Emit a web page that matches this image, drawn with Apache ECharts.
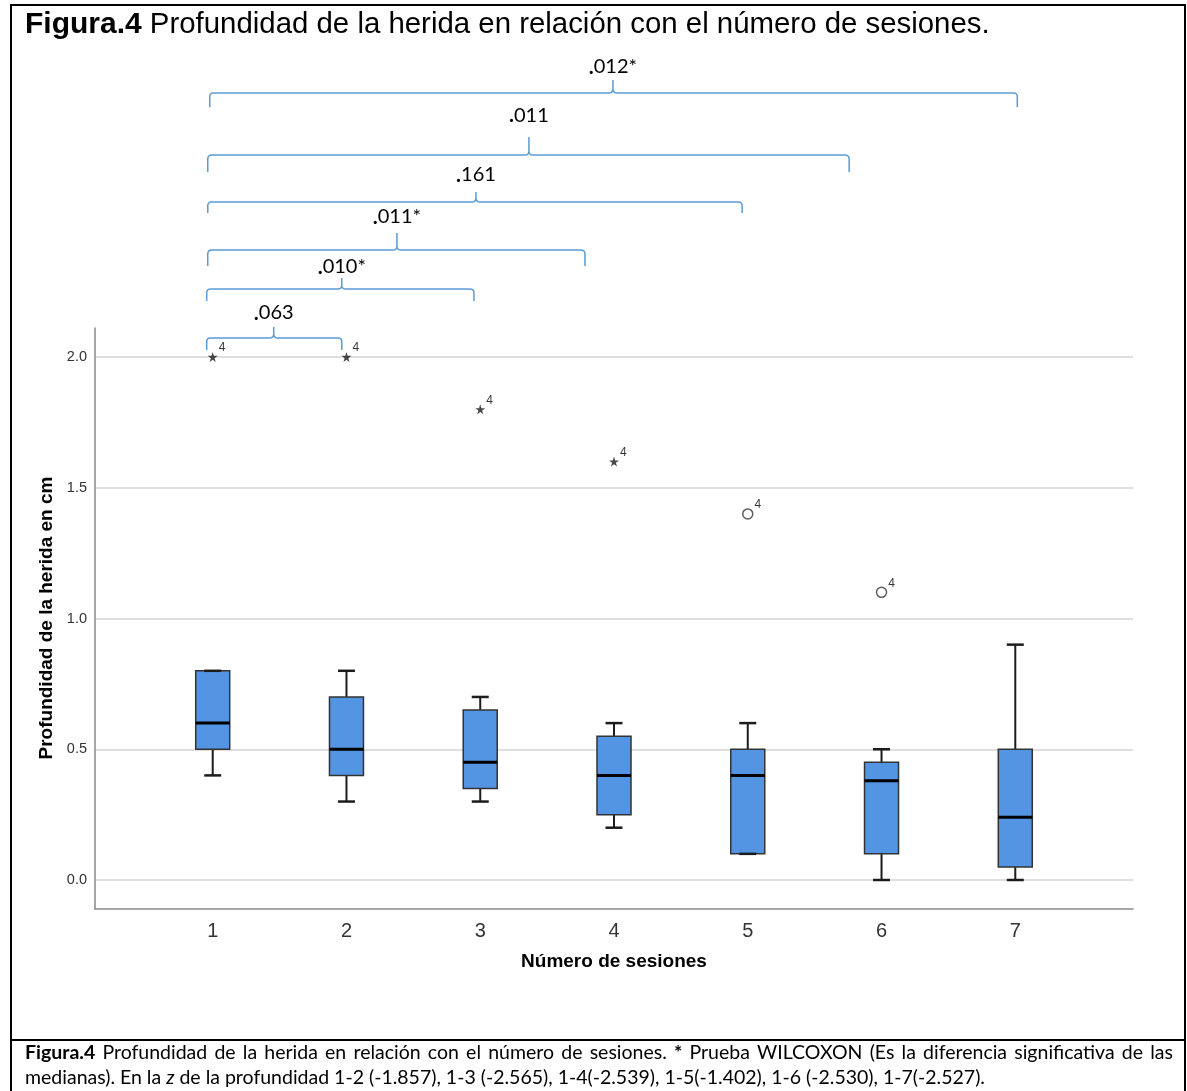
<!DOCTYPE html>
<html>
<head>
<meta charset="utf-8">
<script src="https://cdn.jsdelivr.net/npm/echarts@6/dist/echarts.min.js"></script>
<style>
  html, body { margin: 0; padding: 0; background: #ffffff; }
  #chart { width: 1187px; height: 1091px; }
</style>
</head>
<body>
<div id="chart"></div>
<script>
// Wound depth (cm) by number of sessions — box summaries
const sessions    = [1, 2, 3, 4, 5, 6, 7];
const whiskerLow  = [0.40, 0.30, 0.30, 0.20, 0.10, 0.00, 0.00];
const quartile1   = [0.50, 0.40, 0.35, 0.25, 0.10, 0.10, 0.05];
const medians     = [0.60, 0.50, 0.45, 0.40, 0.40, 0.38, 0.24];
const quartile3   = [0.80, 0.70, 0.65, 0.55, 0.50, 0.45, 0.50];
const whiskerHigh = [0.80, 0.80, 0.70, 0.60, 0.60, 0.50, 0.90];

// Outlying cases (case number 4)
const outlierSession = [1, 2, 3, 4, 5, 6];
const outlierDepth   = [2.0, 2.0, 1.8, 1.6, 1.4, 1.1];
const outlierKind    = ['extreme', 'extreme', 'extreme', 'extreme', 'outlier', 'outlier'];
const outlierCase    = ['4', '4', '4', '4', '4', '4'];

// Pairwise comparison brackets (session 1 against the others)
const bracketFrom  = [0.955, 0.955, 0.963, 0.963, 0.963, 0.978];
const bracketTo    = [1.965, 2.953, 3.783, 4.958, 5.758, 7.015];
const bracketPeak  = [1.456, 1.965, 2.377, 2.968, 3.364, 3.992];
const bracketLevel = [2.073, 2.260, 2.409, 2.593, 2.772, 3.010];
const bracketLabel = ['.063', '.010*', '.011*', '.161', '.011', '.012*'];

const titleBold = 'Figura.4';
const titleRest = ' Profundidad de la herida en relación con el número de sesiones.';
const xName = 'Número de sesiones';
const yName = 'Profundidad de la herida en cm';
const captionLine1 = 'Figura.4 Profundidad de la herida en relación con el número de sesiones. * Prueba WILCOXON (Es la diferencia significativa de las';
const captionLine2a = 'medianas). En la ';
const captionLine2z = 'z';
const captionLine2b = ' de la profundidad 1-2 (-1.857), 1-3 (-2.565), 1-4(-2.539), 1-5(-1.402), 1-6 (-2.530), 1-7(-2.527).';

const BOX_FILL = '#5394E3';
const BRACKET = '#5B9BD5';
const CAPTION_FONT = 'Lato';
const CAPTION_SIZE = 19.5;
// bracket drawing sizes in pixels: tip height, end drop and label lift for each bracket
const bracketTipPx   = [11, 11, 17, 10, 18, 13];
const bracketDropPx  = [12, 12, 16, 11, 17, 14];
const bracketLiftPx  = [14, 11, 16, 17, 22, 13];

const chart = echarts.init(document.getElementById('chart'), null, { renderer: 'canvas' });

// text measuring for the justified caption line
const measureCtx = document.createElement('canvas').getContext('2d');
function textWidth(t, font) { measureCtx.font = font; return measureCtx.measureText(t).width; }

function justifiedLine(text, left, right, y) {
  const words = text.split(' ');
  const isBold = (w, i) => i === 0 || w === '*';
  const fonts = words.map((w, i) => (isBold(w, i) ? 'bold ' : '') + CAPTION_SIZE + 'px ' + CAPTION_FONT);
  const widths = words.map((w, i) => textWidth(w, fonts[i]));
  const total = widths.reduce((a, b) => a + b, 0);
  const gap = (right - left - total) / (words.length - 1);
  let x = left;
  return words.map((w, i) => {
    const el = {
      type: 'text', x: x, y: y,
      style: {
        text: w, fill: '#000', fontFamily: CAPTION_FONT, fontSize: CAPTION_SIZE,
        fontWeight: isBold(w, i) ? 'bold' : 'normal',
        textAlign: 'left', textVerticalAlign: 'middle'
      }
    };
    x += widths[i] + gap;
    return el;
  });
}

// box, whiskers, caps and median for one session
function renderBox(params, api) {
  const x = api.value(0);
  const lo = api.coord([x, api.value(1)]);
  const q1 = api.coord([x, api.value(2)]);
  const md = api.coord([x, api.value(3)]);
  const q3 = api.coord([x, api.value(4)]);
  const hi = api.coord([x, api.value(5)]);
  const cx = lo[0];
  const hw = 17, cw = 8.5;
  const whisk = { stroke: '#1c1c1c', lineWidth: 2 };
  return {
    type: 'group',
    children: [
      { type: 'line', shape: { x1: cx, y1: q1[1], x2: cx, y2: lo[1] }, style: whisk },
      { type: 'line', shape: { x1: cx, y1: q3[1], x2: cx, y2: hi[1] }, style: whisk },
      { type: 'rect', shape: { x: cx - hw, y: q3[1], width: hw * 2, height: q1[1] - q3[1] },
        style: { fill: BOX_FILL, stroke: '#333333', lineWidth: 1.5 } },
      { type: 'line', shape: { x1: cx - hw, y1: md[1], x2: cx + hw, y2: md[1] },
        style: { stroke: '#000000', lineWidth: 3 } },
      { type: 'line', shape: { x1: cx - cw, y1: lo[1], x2: cx + cw, y2: lo[1] }, style: { stroke: '#1c1c1c', lineWidth: 2.5 } },
      { type: 'line', shape: { x1: cx - cw, y1: hi[1], x2: cx + cw, y2: hi[1] }, style: { stroke: '#1c1c1c', lineWidth: 2.5 } }
    ]
  };
}

// curly comparison bracket with its p-value
function quad(p0, c, p1, n) {
  const pts = [];
  for (let i = 1; i <= n; i++) {
    const t = i / n, u = 1 - t;
    pts.push([u * u * p0[0] + 2 * u * t * c[0] + t * t * p1[0], u * u * p0[1] + 2 * u * t * c[1] + t * t * p1[1]]);
  }
  return pts;
}
function renderBracket(params, api) {
  const i = params.dataIndex;
  const a = api.coord([api.value(0), api.value(3)]);
  const b = api.coord([api.value(1), api.value(3)]);
  const p = api.coord([api.value(2), api.value(3)]);
  const y = a[1], x0 = a[0], x1 = b[0], xp = p[0];
  const drop = bracketDropPx[i], peak = bracketTipPx[i], r = 4, w = 4;
  let pts = [[x0, y + drop], [x0, y + r]];
  pts = pts.concat(quad([x0, y + r], [x0, y], [x0 + r, y], 5));
  pts.push([xp - w, y]);
  pts = pts.concat(quad([xp - w, y], [xp, y], [xp, y - w], 5));
  pts.push([xp, y - peak]);
  pts.push([xp, y - w]);
  pts = pts.concat(quad([xp, y - w], [xp, y], [xp + w, y], 5));
  pts.push([x1 - r, y]);
  pts = pts.concat(quad([x1 - r, y], [x1, y], [x1, y + r], 5));
  pts.push([x1, y + drop]);
  const label = bracketLabel[i];
  return {
    type: 'group',
    children: [
      { type: 'polyline', shape: { points: pts }, style: { stroke: BRACKET, lineWidth: 1.5, fill: null } },
      { type: 'text', x: xp, y: y - peak - bracketLiftPx[i],
        style: {
          text: '{d|' + label.charAt(0) + '}{n|' + label.slice(1) + '}',
          textAlign: 'center', textVerticalAlign: 'middle',
          rich: {
            d: { fontFamily: CAPTION_FONT, fontSize: 21, fontWeight: 'bold', fill: '#000' },
            n: { fontFamily: CAPTION_FONT, fontSize: 20, fill: '#000' }
          }
        } }
    ]
  };
}

const starPath = 'path://M50,0 L61,35 L98,35 L68,57 L79,91 L50,70 L21,91 L32,57 L2,35 L39,35 Z';

const X_MIN = 0.12, X_MAX = 7.88;

const option = {
  animation: false,
  backgroundColor: '#ffffff',
  title: {
    text: '{b|' + titleBold + '}{r|' + titleRest + '}',
    left: 25, top: 10, padding: 0,
    textStyle: {
      rich: {
        b: { fontFamily: 'Liberation Sans', fontSize: 30, fontWeight: 'bold', color: '#000' },
        r: { fontFamily: 'Liberation Sans', fontSize: 29.4, fontWeight: 'normal', color: '#000' }
      }
    }
  },
  grid: [
    { left: 95, right: 54, top: 357, bottom: 211 },   // data area (0 – 2 cm)
    { left: 95, right: 54, top: 328, bottom: 182 }    // padded frame with axis lines
  ],
  xAxis: [
    { type: 'value', gridIndex: 0, min: X_MIN, max: X_MAX, show: false },
    {
      type: 'value', gridIndex: 1, min: X_MIN, max: X_MAX,
      axisLine: { show: true, onZero: false, lineStyle: { color: '#8a8a8a', width: 1.5 } },
      axisTick: { show: false, customValues: sessions },
      splitLine: { show: false },
      axisLabel: { customValues: sessions, color: '#333', fontFamily: 'Liberation Sans', fontSize: 20, margin: 12 }
    }
  ],
  yAxis: [
    {
      type: 'value', gridIndex: 0, min: 0, max: 2, interval: 0.5,
      axisLine: { show: false }, axisTick: { show: false },
      splitLine: { show: true, lineStyle: { color: '#d4d4d4', width: 1.5 } },
      axisLabel: { color: '#333', fontFamily: 'Liberation Sans', fontSize: 14.5, margin: 8,
                   formatter: v => v.toFixed(1) }
    },
    {
      type: 'value', gridIndex: 1, min: 0, max: 1,
      axisLine: { show: true, onZero: false, lineStyle: { color: '#8a8a8a', width: 1.5 } },
      axisTick: { show: false }, axisLabel: { show: false }, splitLine: { show: false }
    }
  ],
  series: [
    {
      type: 'custom', name: 'boxes', xAxisIndex: 0, yAxisIndex: 0, clip: false,
      renderItem: renderBox,
      encode: { x: 0, y: [1, 2, 3, 4, 5] },
      data: sessions.map((s, i) => [s, whiskerLow[i], quartile1[i], medians[i], quartile3[i], whiskerHigh[i]])
    },
    {
      type: 'scatter', name: 'outliers', xAxisIndex: 0, yAxisIndex: 0, clip: false,
      data: outlierSession.map((s, i) => ({
        value: [s, outlierDepth[i]],
        symbol: outlierKind[i] === 'extreme' ? starPath : 'circle',
        symbolSize: 10,
        itemStyle: outlierKind[i] === 'extreme'
          ? { color: '#1a1a1a', borderWidth: 0 }
          : { color: '#ffffff', borderColor: '#333', borderWidth: 1.5 },
        label: { show: true, formatter: outlierCase[i] }
      })),
      label: { position: 'right', distance: 1, offset: [0, -9], color: '#000', fontFamily: 'Liberation Sans', fontSize: 12 }
    },
    {
      type: 'custom', name: 'brackets', xAxisIndex: 0, yAxisIndex: 0, clip: false,
      renderItem: renderBracket,
      encode: { x: [0, 1, 2], y: 3 },
      data: bracketLabel.map((l, i) => [bracketFrom[i], bracketTo[i], bracketPeak[i], bracketLevel[i]])
    }
  ],
  graphic: [
    { type: 'rect', shape: { x: 11, y: 5, width: 1174, height: 1100 }, style: { fill: null, stroke: '#000', lineWidth: 2 } },
    { type: 'line', shape: { x1: 11, y1: 1040, x2: 1185, y2: 1040 }, style: { stroke: '#000', lineWidth: 2 } },
    { type: 'text', x: 47, y: 618, rotation: Math.PI / 2,
      style: { text: yName, fontFamily: 'Liberation Sans', fontWeight: 'bold', fontSize: 19, fill: '#000',
               textAlign: 'center', textVerticalAlign: 'middle' } },
    { type: 'text', x: 614, y: 962,
      style: { text: xName, fontFamily: 'Liberation Sans', fontWeight: 'bold', fontSize: 19, fill: '#000',
               textAlign: 'center', textVerticalAlign: 'middle' } }
  ].concat(justifiedLine(captionLine1, 25, 1173, 1053)).concat([
    { type: 'text', x: 25, y: 1078,
      style: {
        text: '{r|' + captionLine2a + '}{i|' + captionLine2z + '}{r|' + captionLine2b + '}',
        textVerticalAlign: 'middle',
        rich: {
          r: { fontFamily: CAPTION_FONT, fontSize: CAPTION_SIZE, fill: '#000' },
          i: { fontFamily: CAPTION_FONT, fontSize: CAPTION_SIZE, fontStyle: 'italic', fill: '#000' }
        }
      } }
  ])
};

chart.setOption(option);
</script>
</body>
</html>
